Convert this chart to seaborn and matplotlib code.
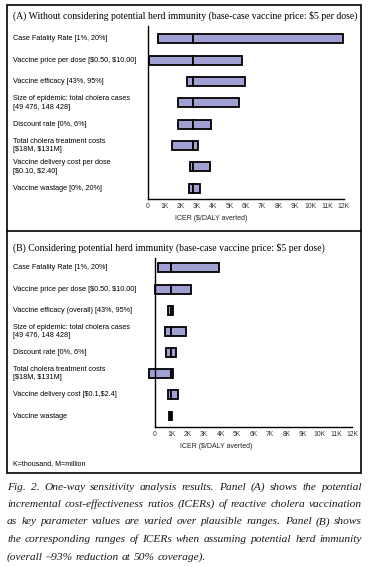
import matplotlib
matplotlib.use("Agg")
import matplotlib.pyplot as plt
import matplotlib.transforms as mtransforms
from matplotlib.patches import Rectangle
from matplotlib.lines import Line2D
import numpy as np
import pandas as pd
import seaborn as sns

# ---------------- data ----------------
params_a = [
    "Case Fatality Rate [1%, 20%]",
    "Vaccine price per dose [$0.50, $10.00]",
    "Vaccine efficacy [43%, 95%]",
    "Size of epidemic: total cholera cases\n[49 476, 148 428]",
    "Discount rate [0%, 6%]",
    "Total cholera treatment costs\n[$18M, $131M]",
    "Vaccine delivery cost per dose\n[$0.10, $2.40]",
    "Vaccine wastage [0%, 20%]",
]
low_a = [0.59, 0.04, 2.37, 1.82, 1.82, 1.45, 2.55, 2.49]
high_a = [11.94, 5.80, 5.93, 5.56, 3.84, 3.04, 3.78, 3.17]
base_a = 2.74

params_b = [
    "Case Fatality Rate [1%, 20%]",
    "Vaccine price per dose [$0.50, $10.00]",
    "Vaccine efficacy (overall) [43%, 95%]",
    "Size of epidemic: total cholera cases\n[49 476, 148 428]",
    "Discount rate [0%, 6%]",
    "Total cholera treatment costs\n[$18M, $131M]",
    "Vaccine delivery cost [$0.1,$2.4]",
    "Vaccine wastage",
]
low_b = [0.20, 0.00, 0.81, 0.63, 0.65, -0.35, 0.81, 0.85]
high_b = [3.90, 2.17, 1.11, 1.87, 1.30, 1.11, 1.38, 1.05]
base_b = 0.95

tick_vals = list(range(0, 13))
tick_labels = ["0"] + [f"{k}K" for k in range(1, 13)]

title_a = "(A) Without considering potential herd immunity (base-case vaccine price: $5 per dose)"
title_b = "(B) Considering potential herd immunity (base-case vaccine price: $5 per dose)"
xlabel = "ICER ($/DALY averted)"
note = "K=thousand, M=million"
caption_lines = [
    "Fig. 2. One-way sensitivity analysis results. Panel (A) shows the potential",
    "incremental cost-effectiveness ratios (ICERs) of reactive cholera vaccination",
    "as key parameter values are varied over plausible ranges. Panel (B) shows",
    "the corresponding ranges of ICERs when assuming potential herd immunity",
    "(overall ~93% reduction at 50% coverage).",
]

# ---------------- layout helpers ----------------
W, H = 370, 567
sns.set_theme(style="white")
plt.rcParams["font.family"] = ["Liberation Sans", "DejaVu Sans"]
fig = plt.figure(figsize=(W / 100, H / 100), dpi=100)
fig.patch.set_facecolor("white")


def fx(px):
    return px / W


def fy(py):
    return 1 - py / H


BAR = "#a0a0d4"
SANS = ["Liberation Sans", "DejaVu Sans"]
SERIF = ["Liberation Serif", "DejaVu Serif"]


def panel(params, low, high, base, x0px, x1px, xmin, top, bottom, ymin, ymax,
          title, title_y, xlabel_x, xlabel_y, tick_y):
    ppk = (x1px - x0px) / 12.0
    left_px = x0px + xmin * ppk
    ax = fig.add_axes([fx(left_px), fy(bottom), (x1px - left_px) / W, (bottom - top) / H])
    ax.set_facecolor("none")
    df = pd.DataFrame({
        "param": params,
        "lo_left": low,
        "lo_w": [base - v for v in low],
        "hi_left": [base] * len(params),
        "hi_w": [h - base for h in high],
    })
    sns.barplot(data=df, y="param", x="lo_w", left=df["lo_left"], order=params,
                orient="h", color=BAR, saturation=1, width=0.42,
                edgecolor="black", linewidth=1.3, ax=ax)
    sns.barplot(data=df, y="param", x="hi_w", left=df["hi_left"], order=params,
                orient="h", color=BAR, saturation=1, width=0.42,
                edgecolor="black", linewidth=1.3, ax=ax)
    ax.set_xlim(xmin, 12)
    ax.set_ylim(ymax, ymin)
    for s in ["top", "right"]:
        ax.spines[s].set_visible(False)
    ax.spines["left"].set_position(("data", 0))
    ax.spines["left"].set_color("black")
    ax.spines["left"].set_linewidth(1.0)
    ax.spines["bottom"].set_color("black")
    ax.spines["bottom"].set_linewidth(1.0)
    ax.spines["bottom"].set_bounds(0, 12)
    ax.set_yticks([])
    ax.set_ylabel("")
    ax.set_xlabel("")
    ax.set_xticks(tick_vals)
    ax.set_xticklabels([])
    ax.tick_params(axis="x", length=0)
    for v, lab in zip(tick_vals, tick_labels):
        fig.text(fx(x0px + v * ppk), fy(tick_y), lab, ha="center", va="center",
                 fontsize=4.9, color="#333333", family=SANS)
    tr = mtransforms.blended_transform_factory(fig.transFigure, ax.transData)
    for i, p in enumerate(params):
        ax.text(fx(13), i, p, transform=tr, ha="left", va="center", fontsize=5.2,
                color="black", family=SANS, linespacing=1.25, parse_math=False)
    fig.text(fx(xlabel_x), fy(xlabel_y), xlabel, ha="center", va="center",
             fontsize=5.0, color="#222222", family=SANS, parse_math=False)
    fig.text(fx(13), fy(title_y), title, ha="left", va="center", fontsize=7.0,
             color="black", family=SERIF, parse_math=False)
    return ax


axA = panel(params_a, low_a, high_a, base_a, 148, 343.5, 0, 26, 199, -0.6, 7.5,
            title_a, 16, 211, 219, 207)
axB = panel(params_b, low_b, high_b, base_b, 155, 352.3, -0.5, 258, 427, -0.47, 7.52,
            title_b, 248, 216, 447, 435)

fig.text(fx(13), fy(464), note, ha="left", va="center", fontsize=5.0, color="black",
         family=SANS)

# outer frame and divider
fig.add_artist(Rectangle((fx(7), fy(473)), (361 - 7) / W, (473 - 5) / H,
                         transform=fig.transFigure, fill=False, edgecolor="black",
                         linewidth=1.2))
fig.add_artist(Line2D([fx(7), fx(361)], [fy(231), fy(231)], transform=fig.transFigure,
                      color="black", linewidth=1.2))

# caption, justified
renderer = fig.canvas.get_renderer()
cap_left, cap_right = 7, 362


def measure(s, size):
    t = fig.text(0, 0, s, fontsize=size, style="italic", family=SERIF, parse_math=False)
    w = t.get_window_extent(renderer).width
    t.remove()
    return w


base_size = 8.0
maxw = max(measure(l, base_size) for l in caption_lines[:-1])
cap_size = base_size * (cap_right - cap_left - 2) / maxw

line_y = [489.5, 507, 524.5, 542, 559.5]
space_w = measure("a a", cap_size) - measure("aa", cap_size)
for li, (line, ybase) in enumerate(zip(caption_lines, line_y)):
    words = line.split(" ")
    texts = []
    widths = []
    for w in words:
        t = fig.text(0, fy(ybase), w, ha="left", va="baseline", fontsize=cap_size,
                     style="italic", family=SERIF, color="#1a1a1a", parse_math=False)
        texts.append(t)
        widths.append(t.get_window_extent(renderer).width)
    if li < len(caption_lines) - 1 and len(words) > 1:
        gap = ((cap_right - cap_left) - sum(widths)) / (len(words) - 1)
    else:
        gap = space_w
    x = cap_left
    for t, wdt in zip(texts, widths):
        t.set_x(fx(x))
        x += wdt + gap

fig.savefig("out.png", dpi=100)
